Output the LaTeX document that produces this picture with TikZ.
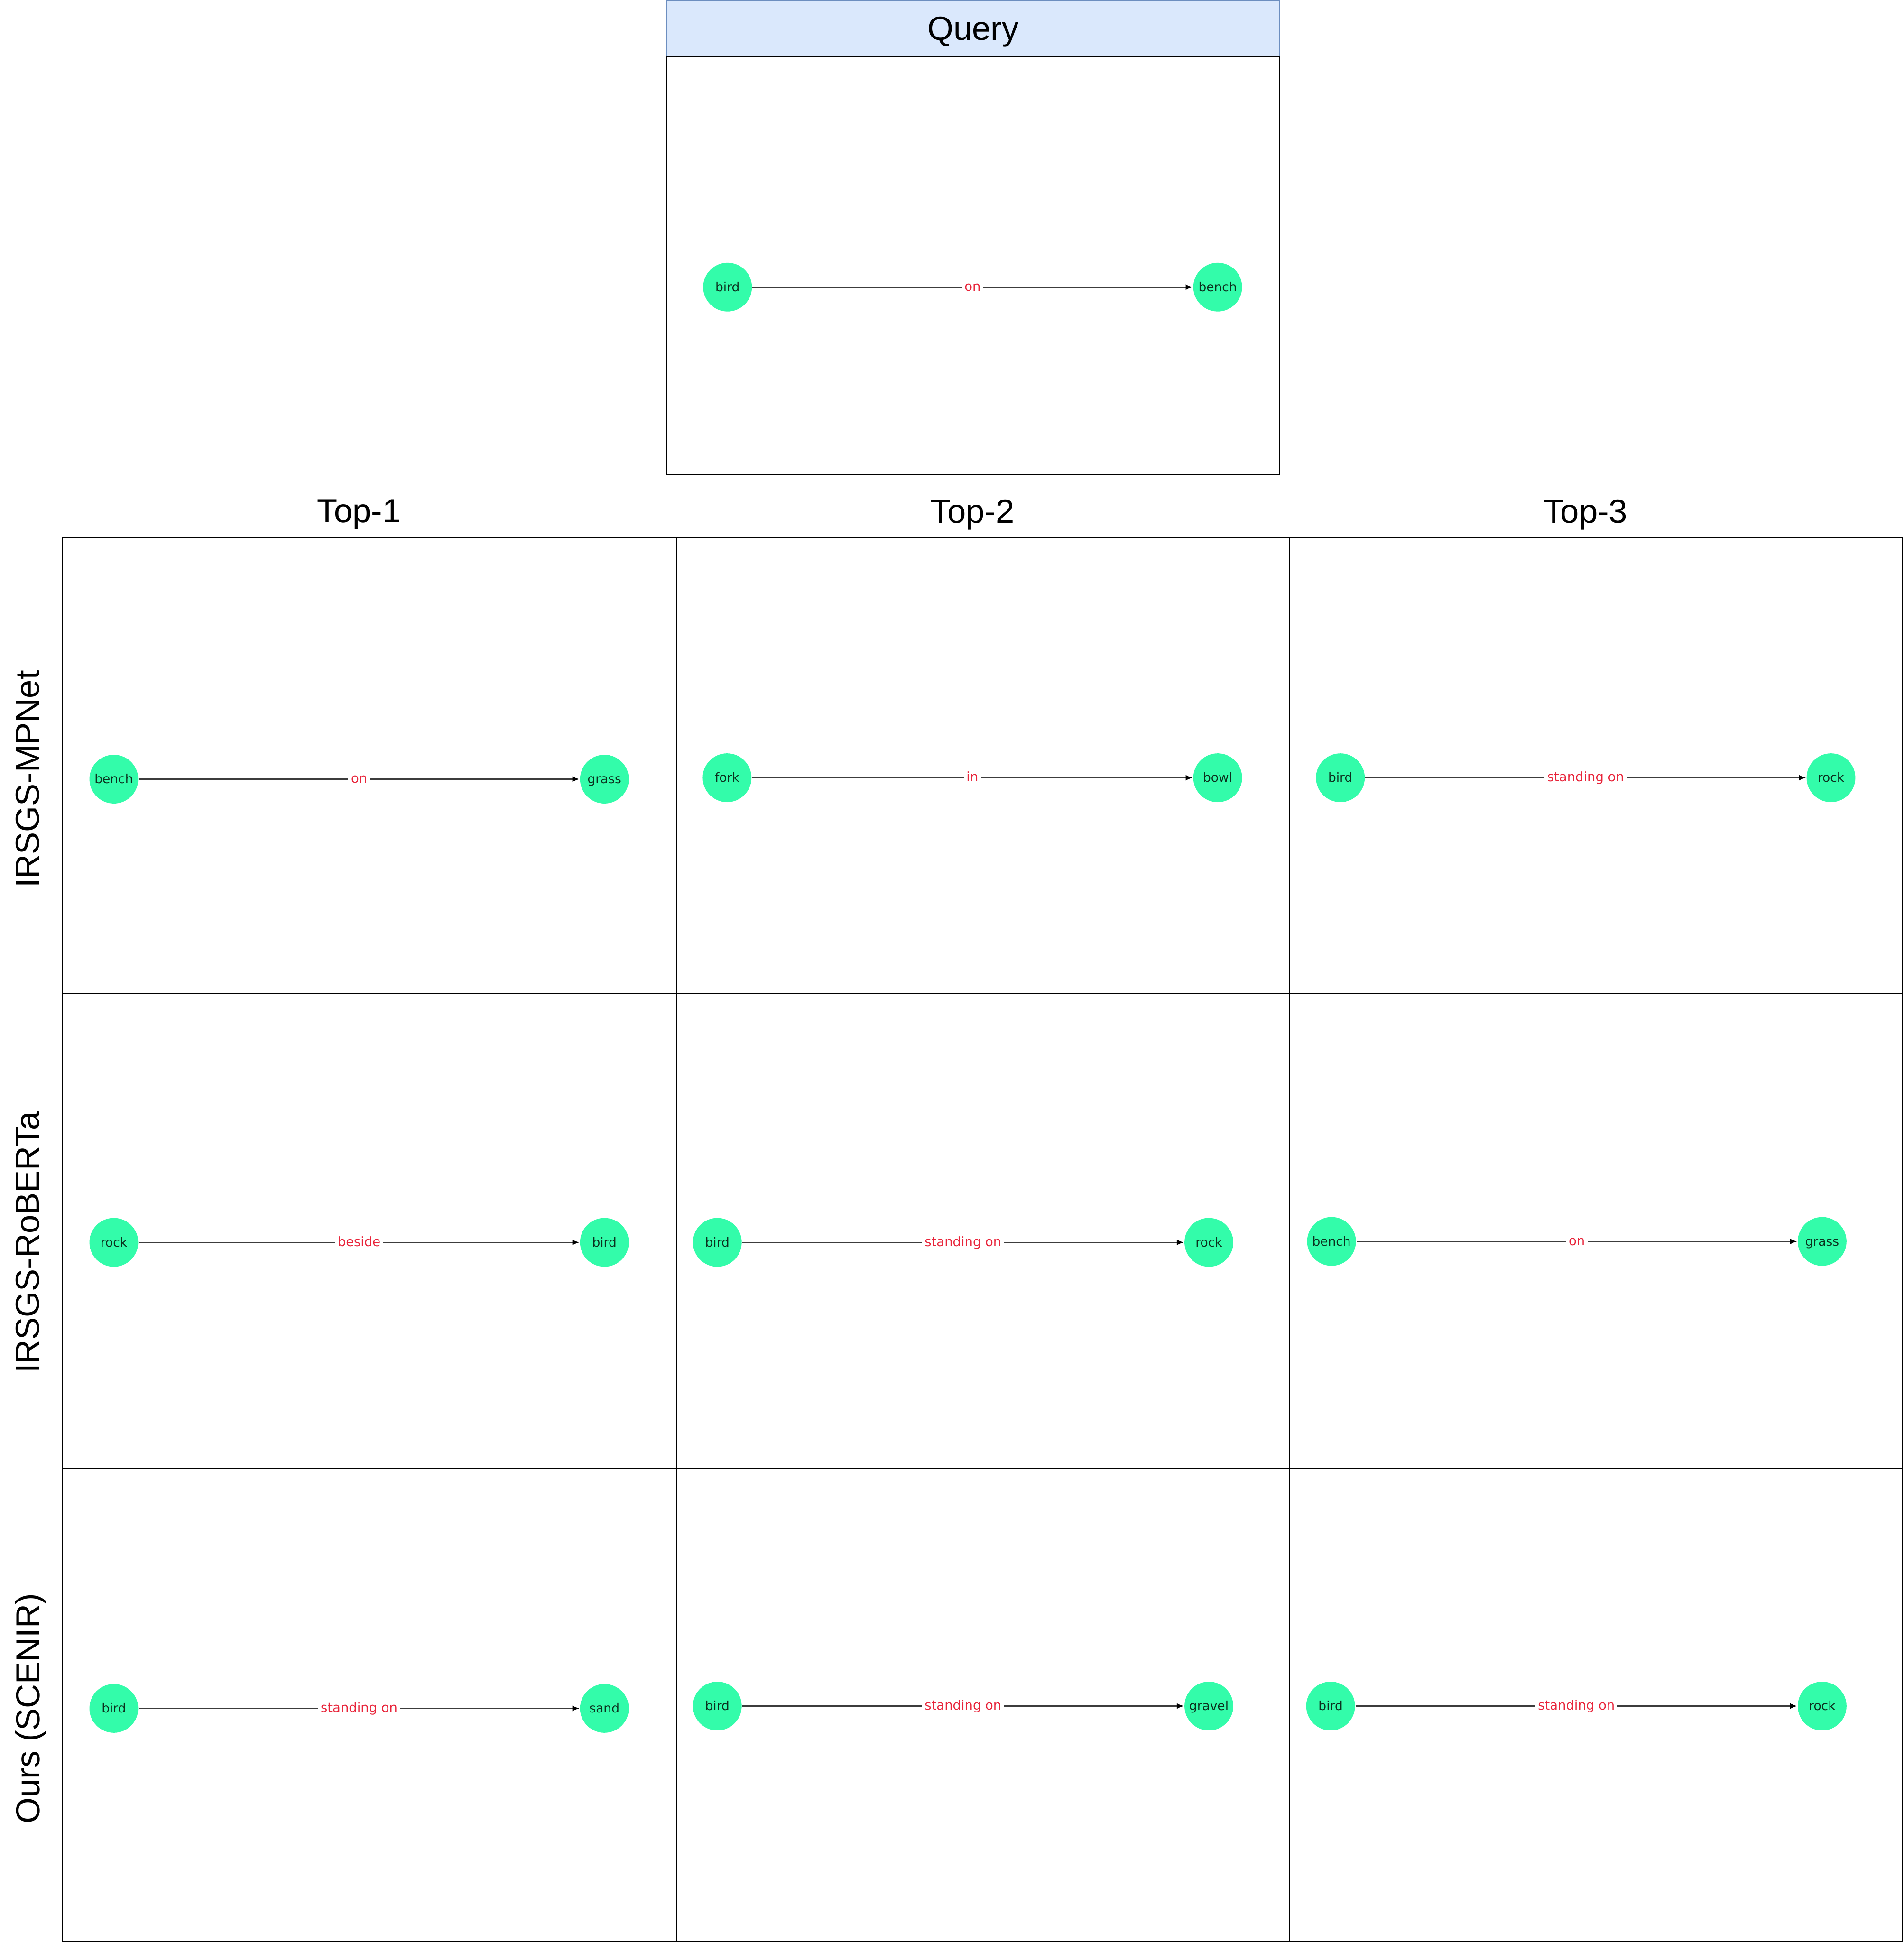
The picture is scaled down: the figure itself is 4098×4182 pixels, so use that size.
\documentclass[tikz,border=0pt]{standalone}
\usepackage{fontspec}
\setmainfont{Liberation Sans}
\newfontfamily\nodefont{DejaVu Sans}
\usetikzlibrary{arrows.meta}
\definecolor{entgreen}{RGB}{51,252,170}
\definecolor{enttext}{RGB}{12,48,30}
\definecolor{relred}{RGB}{232,36,58}
\definecolor{hdrfill}{RGB}{218,232,252}
\definecolor{hdrdraw}{RGB}{108,142,191}
\definecolor{edgegray}{RGB}{60,60,60}
\tikzset{
  ent/.style={circle,fill=entgreen,draw=none,minimum size=21pt,inner sep=0pt,
    font=\nodefont\fontsize{5.4pt}{6pt}\selectfont,text=enttext,
    text height=5pt,text depth=1.2pt},
  relline/.style={draw=edgegray,line width=0.6pt,
    -{Latex[length=3.1pt,width=2.5pt,color=black]}},
  rellab/.style={fill=white,inner sep=1.2pt,text=relred,
    font=\nodefont\fontsize{5.6pt}{6pt}\selectfont,
    text height=4.7pt,text depth=1.3pt},
  frame/.style={draw=black,line width=0.5pt},
  bigtxt/.style={font=\fontsize{14.4pt}{16pt}\selectfont,inner sep=0pt,text depth=0pt}
}
\newcommand\gpair[7]{%
  \node[ent] (#1a) at (#2,#4) {#5};
  \node[ent] (#1b) at (#3,#4) {#6};
  \draw[relline] (#1a) -- node[rellab] (#1r) {#7} (#1b);
}
\begin{document}
\begin{tikzpicture}[x=0.2pt,y=-0.2pt]
\useasboundingbox (0,0) rectangle (4098,4182);
\fill[white] (0,0) rectangle (4098,4182);
% Query panel
\node[fill=hdrfill,draw=hdrdraw,line width=0.5pt,minimum width=1319*0.2pt,
  minimum height=119*0.2pt,anchor=north west,inner sep=0pt,outer sep=0pt,
  text depth=0pt,font=\fontsize{14.4pt}{16pt}\selectfont] (qhead) at (1435,2) {Query};
\node[frame,minimum width=1319*0.2pt,minimum height=900*0.2pt,anchor=north west,
  inner sep=0pt,outer sep=0pt] (qbox) at (1435,121) {};
\gpair{q}{1566}{2621}{618}{bird}{bench}{on}
% column headers
\node[bigtxt] (t1) at (773,1100) {Top-1};
\node[bigtxt] (t2) at (2093,1100) {Top-2};
\node[bigtxt] (t3) at (3413,1100) {Top-3};
% row labels
\node[bigtxt,rotate=90] (r1) at (59,1677) {IRSGS-MPNet};
\node[bigtxt,rotate=90] (r2) at (59,2674) {IRSGS-RoBERTa};
\node[bigtxt,rotate=90] (r3) at (59,3677) {Ours (SCENIR)};
% grid
\draw[frame] (135,1158) rectangle (4095,4179);
\draw[frame] (1456,1158) -- (1456,4179);
\draw[frame] (2776,1158) -- (2776,4179);
\draw[frame] (135,2138) -- (4095,2138);
\draw[frame] (135,3160) -- (4095,3160);
% row 1
\gpair{aa}{245}{1301}{1677}{bench}{grass}{on}
\gpair{ab}{1565}{2621}{1674}{fork}{bowl}{in}
\gpair{ac}{2885}{3941}{1674}{bird}{rock}{standing on}
% row 2
\gpair{ba}{245}{1301}{2674}{rock}{bird}{beside}
\gpair{bb}{1544}{2602}{2674}{bird}{rock}{standing on}
\gpair{bc}{2866}{3922}{2672}{bench}{grass}{on}
% row 3
\gpair{ca}{245}{1301}{3677}{bird}{sand}{standing on}
\gpair{cb}{1544}{2602}{3672}{bird}{gravel}{standing on}
\gpair{cc}{2864}{3922}{3672}{bird}{rock}{standing on}
\end{tikzpicture}
\end{document}
